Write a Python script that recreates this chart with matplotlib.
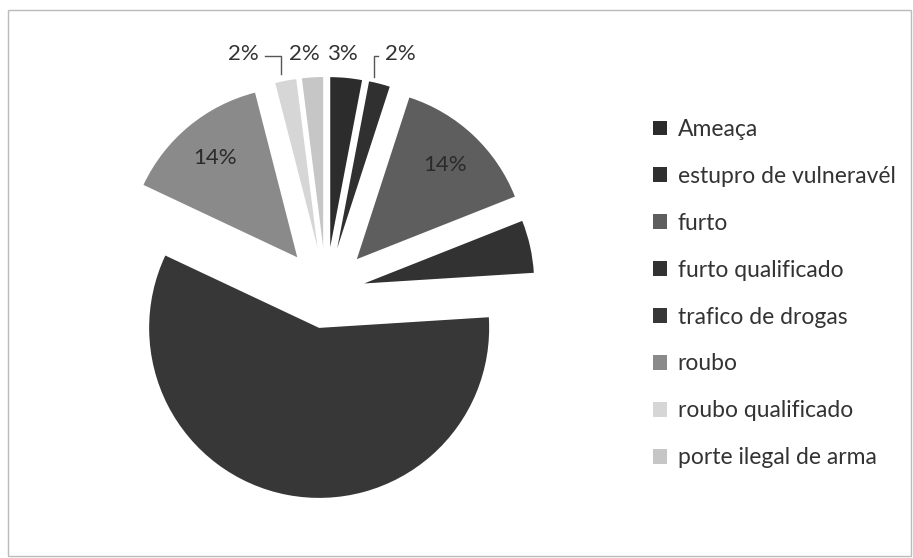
import numpy as np
import matplotlib
matplotlib.use("Agg")
import matplotlib.pyplot as plt
from matplotlib.patches import Rectangle

categorias = ["Ameaça", "estupro de vulneravél", "furto", "furto qualificado",
              "trafico de drogas", "roubo", "roubo qualificado", "porte ilegal de arma"]
percentuais = [3, 2, 14, 5, 58, 14, 2, 2]
rotulos = ["3%", "2%", "14%", "5%", "58%", "14%", "2%", "2%"]
cores = ["#2c2c2c", "#303030", "#5e5e5e", "#323232", "#373737", "#8a8a8a", "#d6d6d6", "#c6c6c6"]
afastamento = [0.265, 0.265, 0.265, 0.23, 0.215, 0.265, 0.265, 0.265]

plt.rcParams['font.family'] = ['Lato', 'DejaVu Sans']

fig = plt.figure(figsize=(9.13, 5.58), dpi=100)
ax = fig.add_axes([71/913, 11/558, 510/913, 510/558])

wedges, _ = ax.pie(percentuais, colors=cores, explode=afastamento, startangle=90,
                   counterclock=False, wedgeprops=dict(linewidth=0))
ax.set_xlim(-1.5, 1.5)
ax.set_ylim(-1.5, 1.5)
ax.set_aspect('equal')
ax.axis('off')

def ponto(w, r):
    ang = np.deg2rad((w.theta1 + w.theta2) / 2)
    cx, cy = w.center
    return cx + r*np.cos(ang), cy + r*np.sin(ang)

# rotulos internos (visiveis nas fatias cinza)
for i in [2, 5]:
    x, y = ponto(wedges[i], 0.76)
    ax.text(x, y, rotulos[i], ha='center', va='center', fontsize=16, color='#2a2a2a')

# rotulos externos das fatias pequenas
linha_y = 1.40
for i, dx in [(0, -0.02), (7, -0.05), (6, -0.25), (1, 0.12)]:
    px, py = ponto(wedges[i], 1.0)
    tx = px + dx
    ax.text(tx, linha_y, rotulos[i], ha='center', va='center', fontsize=16, color='#333333')
    if i in (6, 1):
        borda = tx + 0.13 if dx < 0 else tx - 0.13
        lx = px - 0.03
        ax.plot([lx, lx, borda], [py + 0.04, linha_y - 0.01, linha_y - 0.01],
                color='#555555', lw=1)

leg = ax.legend(wedges, categorias, loc='upper left',
                bbox_to_anchor=(653/913, 1 - 119/558), bbox_transform=fig.transFigure,
                frameon=False, fontsize=16.5, handlelength=0.62, handleheight=0.62,
                handletextpad=0.45, labelspacing=1.13, borderpad=0, borderaxespad=0)
for t in leg.get_texts():
    t.set_color('#333333')

fig.patches.append(Rectangle((8/913, 2/558), 903/913, 546/558, transform=fig.transFigure,
                             fill=False, edgecolor='#bbbbbb', lw=1))

fig.savefig("out.png", dpi=100)
